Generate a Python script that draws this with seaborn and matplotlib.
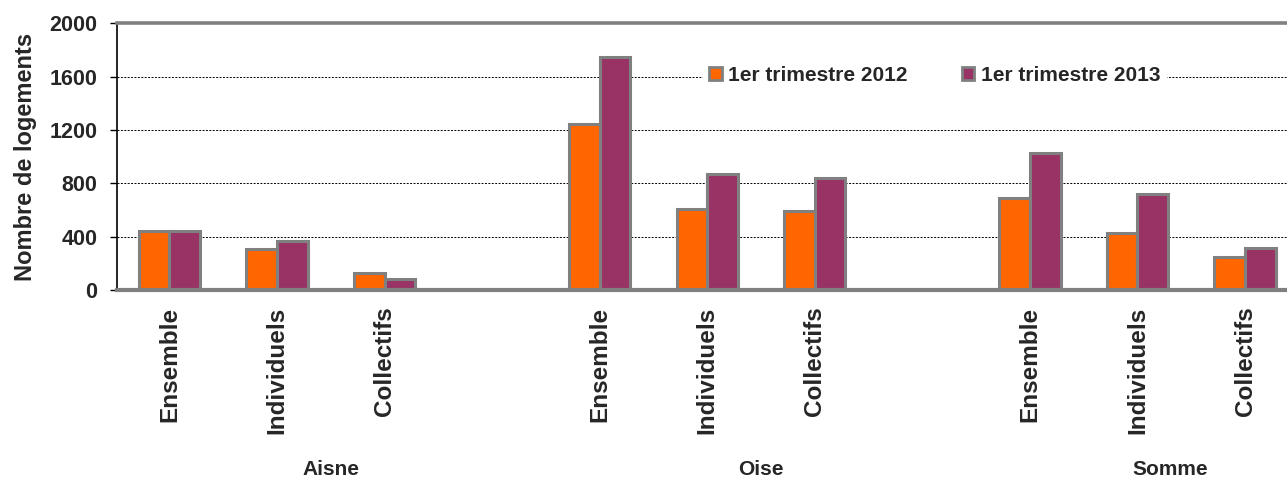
import matplotlib
matplotlib.use("Agg")
import matplotlib.pyplot as plt
import matplotlib.transforms as mtransforms
from matplotlib.patches import Patch
import seaborn as sns
import pandas as pd

# ---- data ----
departements = ["Aisne", "Oise", "Somme"]
types = ["Ensemble", "Individuels", "Collectifs"]
series = ["1er trimestre 2012", "1er trimestre 2013"]
vals_2012 = [440, 305, 125, 1245, 605, 592, 688, 425, 245]
vals_2013 = [440, 370, 80, 1750, 870, 838, 1030, 720, 312]
y_ticks = [0, 400, 800, 1200, 1600, 2000]

colors = ["#FF6600", "#993366"]

# slots: 3 categories per departement, one empty slot between groups
positions = []
tick_labels = []
for g, dep in enumerate(departements):
    for t, typ in enumerate(types):
        positions.append(g * 4 + t)
        tick_labels.append(typ)

rows = []
for i, p in enumerate(positions):
    rows.append({"pos": p, "serie": series[0], "val": vals_2012[i]})
    rows.append({"pos": p, "serie": series[1], "val": vals_2013[i]})
df = pd.DataFrame(rows)

sns.set_theme(style="white")
plt.rcParams["font.family"] = ["Liberation Sans", "DejaVu Sans"]
plt.rcParams["font.weight"] = "bold"

fig = plt.figure(figsize=(12.87, 4.83), dpi=100)
ax = fig.add_axes([0.0907, 0.3996, 0.9093, 0.5522])

sns.barplot(data=df, x="pos", y="val", hue="serie", hue_order=series,
            palette=colors, native_scale=True, width=0.57, gap=0,
            edgecolor="#808080", linewidth=2.2, saturation=1,
            ax=ax, legend=False, zorder=3)

ax.set_ylim(0, 2000)
ax.set_xlim(-0.49, 10.39)
ax.set_yticks(y_ticks)
ax.set_yticklabels([str(v) for v in y_ticks], fontsize=15.5, fontweight="bold")
ax.set_xticks(positions)
ax.set_xticklabels(tick_labels, rotation=90, fontsize=17.5, fontweight="bold")
ax.tick_params(axis="x", length=0, pad=12)
ax.tick_params(axis="y", length=5, width=1, color="black", direction="out", pad=9, left=True)

# grid lines
for yv in y_ticks[1:-1]:
    ax.axhline(yv, color="black", linestyle=(0, (2, 1.5)), linewidth=0.7, zorder=1)

ax.spines["right"].set_visible(False)
ax.spines["top"].set_color("#808080")
ax.spines["top"].set_linewidth(2.6)
ax.spines["bottom"].set_color("#808080")
ax.spines["bottom"].set_linewidth(3)
ax.spines["bottom"].set_zorder(5)
ax.spines["left"].set_color("black")
ax.spines["left"].set_linewidth(1.2)

ax.set_xlabel("")
ax.set_ylabel("Nombre de logements", fontsize=17, fontweight="bold", labelpad=9)

# group labels
trans = mtransforms.blended_transform_factory(ax.transData, ax.transAxes)
group_x = [1.5, 5.5, 9.3]
for gx, dep in zip(group_x, departements):
    ax.text(gx, -0.672, dep, transform=trans, ha="center", va="center",
            fontsize=15, fontweight="bold")

# legend
handles = [Patch(facecolor=c, edgecolor="#808080", linewidth=2) for c in colors]
leg = ax.legend(handles, series, loc="center", bbox_to_anchor=(0.699, 0.806),
                ncol=2, frameon=True, fancybox=False, framealpha=1,
                edgecolor="white", facecolor="white",
                prop={"size": 15, "weight": "bold"},
                handlelength=0.6, handleheight=0.6, handletextpad=0.3,
                columnspacing=2.6, borderpad=0.3)
leg.set_zorder(4)

fig.savefig("out.png", dpi=100)
